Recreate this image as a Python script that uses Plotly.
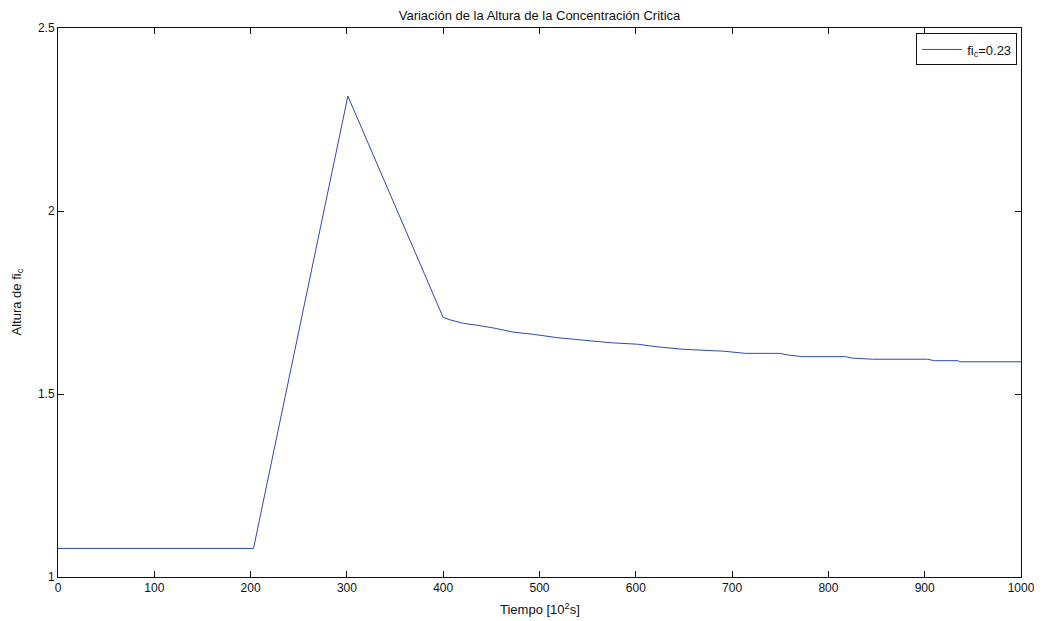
import plotly.graph_objects as go

# Data
tiempo = [0, 203, 301, 400, 408, 421, 435, 453, 473, 494, 518, 546, 574, 602, 622,
          650, 691, 714, 750, 757, 773, 818, 825, 846, 903, 910, 935, 936, 1000]
altura = [1.078, 1.078, 2.314, 1.709, 1.702, 1.693, 1.688, 1.680, 1.669, 1.663, 1.654,
          1.646, 1.640, 1.636, 1.629, 1.622, 1.617, 1.611, 1.611, 1.607, 1.602, 1.602,
          1.598, 1.595, 1.595, 1.591, 1.591, 1.588, 1.588]

x_ticks = [0, 100, 200, 300, 400, 500, 600, 700, 800, 900, 1000]
y_ticks = [1, 1.5, 2, 2.5]
y_tick_text = ["1", "1.5", "2", "2.5"]

FONT = "Liberation Sans, Arial, sans-serif"
INK = "#111111"

# page body has an 8px margin, so the figure is sized to fill the rest of the window
W, H = 1034, 613
L, R, T, B = 50, 21, 20, 44

fig = go.Figure()
fig.add_trace(go.Scatter(
    x=tiempo, y=altura, mode="lines",
    line=dict(color="#2c48b8", width=1),
    name="fi<sub>c</sub>=0.23",
))

axis_common = dict(
    showgrid=False, zeroline=False, automargin=False,
    showline=True, linecolor=INK, linewidth=1, mirror="ticks",
    ticks="inside", ticklen=6, tickcolor=INK, tickwidth=1,
    tickfont=dict(family=FONT, size=12, color=INK),
)

fig.update_layout(
    width=W, height=H,
    margin=dict(l=L, r=R, t=T, b=B),
    paper_bgcolor="white", plot_bgcolor="white",
    font=dict(family=FONT, size=12, color=INK),
    title=dict(text="Variación de la Altura de la Concentración Critica",
               x=0.5, xanchor="center", xref="paper",
               y=1 - 7 / H, yanchor="middle",
               font=dict(family=FONT, size=13, color=INK)),
    xaxis=dict(range=[0, 1000], tickvals=x_ticks, ticktext=[str(v) for v in x_ticks],
               **axis_common),
    yaxis=dict(range=[1, 2.5], tickvals=y_ticks, ticktext=y_tick_text,
               **axis_common),
    showlegend=True,
    legend=dict(x=0.996, y=0.99, xanchor="right", yanchor="top",
                bgcolor="white", bordercolor=INK, borderwidth=1,
                font=dict(family=FONT, size=13, color=INK),
                itemwidth=40),
    annotations=[
        dict(text="Tiempo [10<sup>2</sup>s]", xref="paper", yref="paper",
             x=0.5, y=0, xanchor="center", yanchor="middle", yshift=-32,
             showarrow=False, font=dict(family=FONT, size=13, color=INK)),
        dict(text="Altura de fi<sub>c</sub>", xref="paper", yref="paper",
             x=0, y=0.5, xanchor="center", yanchor="middle", xshift=-(L - 9),
             textangle=-90, showarrow=False,
             font=dict(family=FONT, size=13, color=INK)),
    ],
)

fig.write_html("out.html")
